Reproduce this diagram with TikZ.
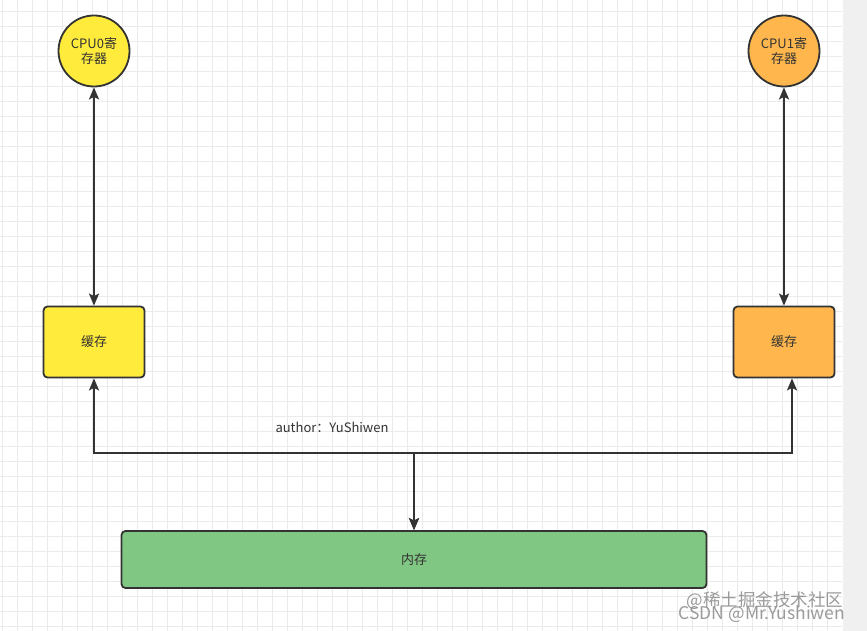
\documentclass[tikz,border=0pt]{standalone}
\usepackage{fontspec}
\setmainfont{Noto Sans CJK SC}
\usetikzlibrary{arrows.meta,calc}
\definecolor{ln}{HTML}{333333}
\definecolor{yel}{HTML}{FFEB3B}
\definecolor{org}{HTML}{FFB74D}
\definecolor{grn}{HTML}{81C784}
\definecolor{gridc}{HTML}{EBEBEB}
\definecolor{strip}{HTML}{F0F0F0}
\definecolor{wmc}{HTML}{8A8A8A}
\tikzset{
  gridl/.style={draw=gridc, line width=0.8pt},
  cpu/.style={circle, draw=ln, line width=1.8pt, minimum size=71pt, inner sep=0pt, align=center, text=ln, font=\fontsize{13}{15}\selectfont},
  cachebox/.style={rectangle, rounded corners=4pt, draw=ln, line width=1.8pt, minimum width=101pt, minimum height=71pt, text=ln, font=\fontsize{13}{15}\selectfont},
  membox/.style={rectangle, rounded corners=4pt, draw=ln, line width=1.8pt, fill=grn, minimum width=585pt, minimum height=57pt, text=ln, font=\fontsize{13}{15}\selectfont},
  conn/.style={draw=ln, line width=2pt, arrows={Stealth[length=12pt,width=10pt,inset=2.5pt]-Stealth[length=12pt,width=10pt,inset=2.5pt]}},
  lbl/.style={text=ln, font=\fontsize{13}{15}\selectfont, inner sep=0pt},
  wm/.style={text=wmc, font=\fontsize{17.5}{19}\selectfont, inner sep=0pt, opacity=0.85}
}
\begin{document}
\begin{tikzpicture}[x=1pt,y=-1pt]
\useasboundingbox (0,0) rectangle (867,631);
\fill[white] (0,0) rectangle (867,631);
\fill[strip] (843,0) rectangle (867,631);
\foreach \x in {2.5,17.5,...,842} \draw[gridl] (\x,0) -- (\x,631);
\foreach \y in {11.7,26.7,...,631} \draw[gridl] (0,\y) -- (842,\y);

\node[cpu, fill=yel] (cpu0) at (94,51) {CPU0寄\\存器};
\node[cpu, fill=org] (cpu1) at (784,51) {CPU1寄\\存器};
\node[cachebox, fill=yel] (c0) at (94,342) {缓存};
\node[cachebox, fill=org] (c1) at (784,342) {缓存};
\node[membox] (mem) at (414,559.5) {内存};
\node[lbl] (au) at (332,427) {author：YuShiwen};

\coordinate (j) at (414,453);
\coordinate (c1in) at ([xshift=8pt]c1.south);

\draw[conn] (cpu0.south) -- (c0.north);
\draw[conn] (cpu1.south) -- (c1.north);
\draw[conn] (c0.south) |- (j) -- (mem.north);
\draw[conn] (mem.north) -- (j) -| (c1in);

\node[wm] (wm1) at (765,601) {@稀土掘金技术社区};
\node[wm] (wm2) at (762,614.5) {CSDN @Mr.Yushiwen};
\end{tikzpicture}
\end{document}
